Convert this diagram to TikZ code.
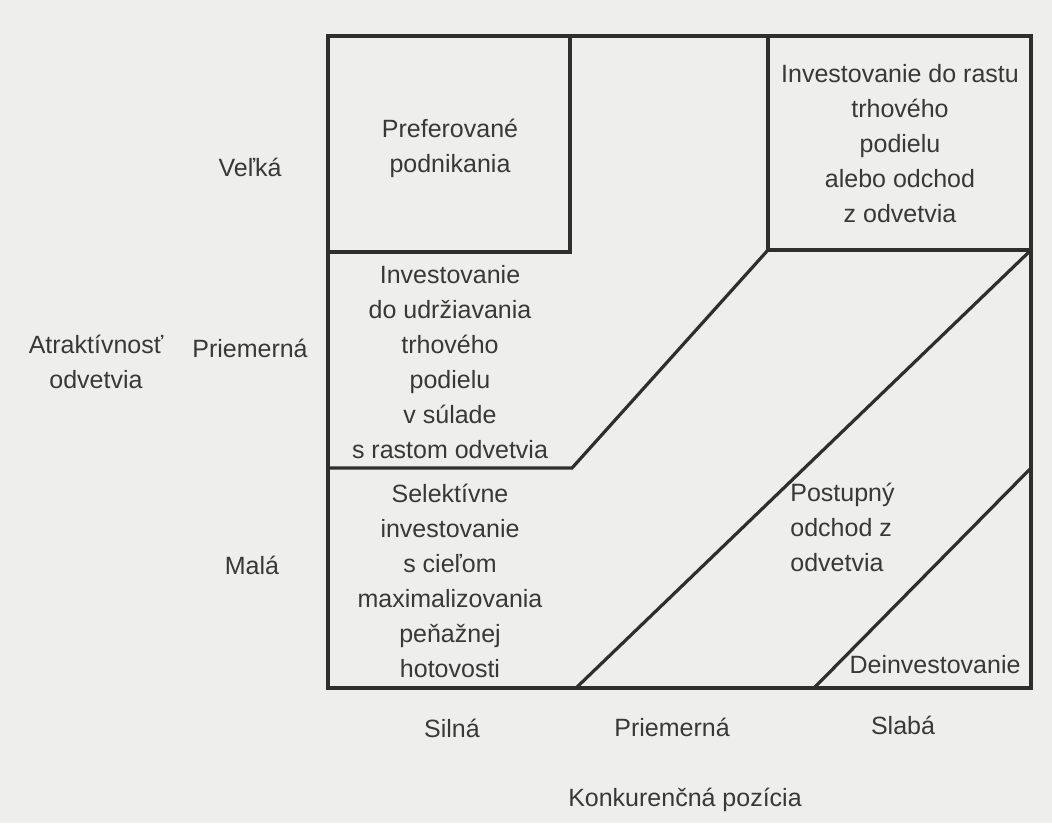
\documentclass[tikz,border=0pt]{standalone}
\usepackage{fontspec}
\setmainfont{Liberation Sans}
\usetikzlibrary{positioning}
\definecolor{Paper}{HTML}{EEEEEC}
\definecolor{Ink}{HTML}{2E2E2E}
\definecolor{Print}{HTML}{383838}

\begin{document}
\begin{tikzpicture}[x=0.5pt,y=-0.5pt,
  lbl/.style={text=Print,align=center,inner sep=0pt,font=\fontsize{12.5}{17.5}\selectfont},
  frame/.style={draw=Ink,line width=1.6pt,line join=miter}]
  \fill[Paper] (0,0) rectangle (1052,823);
  \useasboundingbox (0,0) rectangle (1052,823);
  % grid corners
  \coordinate (nw) at (328,36);
  \coordinate (se) at (1031,688);
  \coordinate (prefSE) at (570,252);
  \coordinate (growSW) at (768,250);
  \coordinate (growSE) at (1031,250);
  \coordinate (stepL) at (328,468);
  \coordinate (stepR) at (572,468);
  \coordinate (exitB) at (576,688);
  \coordinate (divR) at (1031,468);
  \coordinate (divB) at (814,688);
  \draw[frame] (nw) rectangle (se);
  \draw[frame] (nw |- prefSE) -| (prefSE |- nw);
  \draw[frame] (growSW |- nw) |- (growSE);
  \draw[frame] (stepL) -- (stepR) -- (growSW);
  \draw[frame] (exitB) -- (growSE);
  \draw[frame] (divB) -- (divR);
  % texts in the fields
  \node[lbl] (pref) at (450,148) {Preferované\\podnikania};
  \node[lbl] (grow) at (900,144) {Investovanie do rastu\\trhového\\podielu\\alebo odchod\\z odvetvia};
  \node[lbl] (keep) at (450,362) {Investovanie\\do udržiavania\\trhového\\podielu\\v súlade\\s rastom odvetvia};
  \node[lbl] (cash) at (450,581) {Selektívne\\investovanie\\s cieľom\\maximalizovania\\peňažnej\\hotovosti};
  \node[lbl,align=left,anchor=west] (exit) at (790,527) {Postupný\\odchod z\\odvetvia};
  \node[lbl] (divest) at (935,665) {Deinvestovanie};
  % axis labels
  \node[lbl] (big) at (250,167) {Veľká};
  \node[lbl] (midA) at (250,348) {Priemerná};
  \node[lbl] (small) at (252,565) {Malá};
  \node[lbl] (attr) at (96,362) {Atraktívnosť\\odvetvia};
  \node[lbl] (strong) at (452,728) {Silná};
  \node[lbl] (midK) at (672,727) {Priemerná};
  \node[lbl] (weak) at (903,725) {Slabá};
  \node[lbl] (comp) at (685,800) {Konkurenčná pozícia};
\end{tikzpicture}
\end{document}
